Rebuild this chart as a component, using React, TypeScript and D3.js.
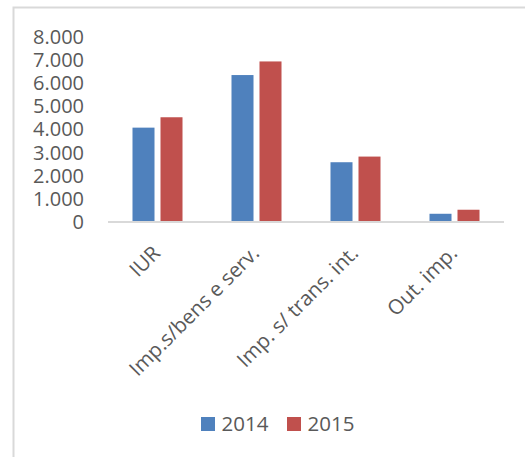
import React from "react";
import * as d3 from "d3";

const categories = ["IUR", "Imp.s/bens e serv.", "Imp. s/ trans. int.", "Out. imp."];
const series = ["2014", "2015"];
const values2014 = [4070, 6350, 2570, 335];
const values2015 = [4520, 6940, 2815, 510];
const yTicks = [0, 1000, 2000, 3000, 4000, 5000, 6000, 7000, 8000];
const colors = ["#4f81bd", "#c0504d"];

const fmt = (v: number) => (v === 0 ? "0" : d3.format(",")(v).replace(/,/g, "."));

export default function App() {
  const W = 525, H = 457;
  const x0 = 108, x1 = 504, yBase = 221.5, yTop = 37;
  const x = d3.scaleBand<string>().domain(categories).range([x0, x1]).paddingInner(0).paddingOuter(0);
  const y = d3.scaleLinear().domain([0, 8000]).range([yBase, yTop]);
  const xs = d3.scaleBand<string>().domain(series).range([0, x.bandwidth()]).paddingInner(0.214).paddingOuter(0.875);
  const data = [values2014, values2015];
  const font = "'Open Sans', 'Liberation Sans', sans-serif";
  return (
    <svg width={W} height={H} style={{ position: "absolute", left: 0, top: 0 }} fontFamily={font}>
      <rect x={0} y={0} width={W} height={H} fill="#fff" />
      <path d={`M13.5,${H} L13.5,7.5 L${W},7.5`} fill="none" stroke="#d9d9d9" strokeWidth={2} />
      {yTicks.map((t) => (
        <text key={t} x={84} y={y(t)} dy="0.36em" textAnchor="end" fontSize={20} fill="#595959">
          {fmt(t)}
        </text>
      ))}
      {categories.map((c, i) =>
        series.map((s, j) => (
          <rect
            key={c + s}
            x={(x(c) as number) + (xs(s) as number)}
            y={y(data[j][i])}
            width={xs.bandwidth()}
            height={yBase - y(data[j][i])}
            fill={colors[j]}
          />
        ))
      )}
      <line x1={x0} x2={x1} y1={yBase + 0.5} y2={yBase + 0.5} stroke="#d9d9d9" strokeWidth={2} />
      {categories.map((c) => {
        const cx = (x(c) as number) + x.bandwidth() / 2;
        return (
          <text key={c} transform={`translate(${cx + 4},${yBase + 33}) rotate(-45)`} textAnchor="end" fontSize={20.5} fill="#595959">
            {c}
          </text>
        );
      })}
      {series.map((s, j) => (
        <g key={s} transform={`translate(${201 + j * 86},417)`}>
          <rect x={0} y={0} width={14} height={14} fill={colors[j]} />
          <text x={20.5} y={14} fontSize={20.5} fill="#595959">{s}</text>
        </g>
      ))}
    </svg>
  );
}
